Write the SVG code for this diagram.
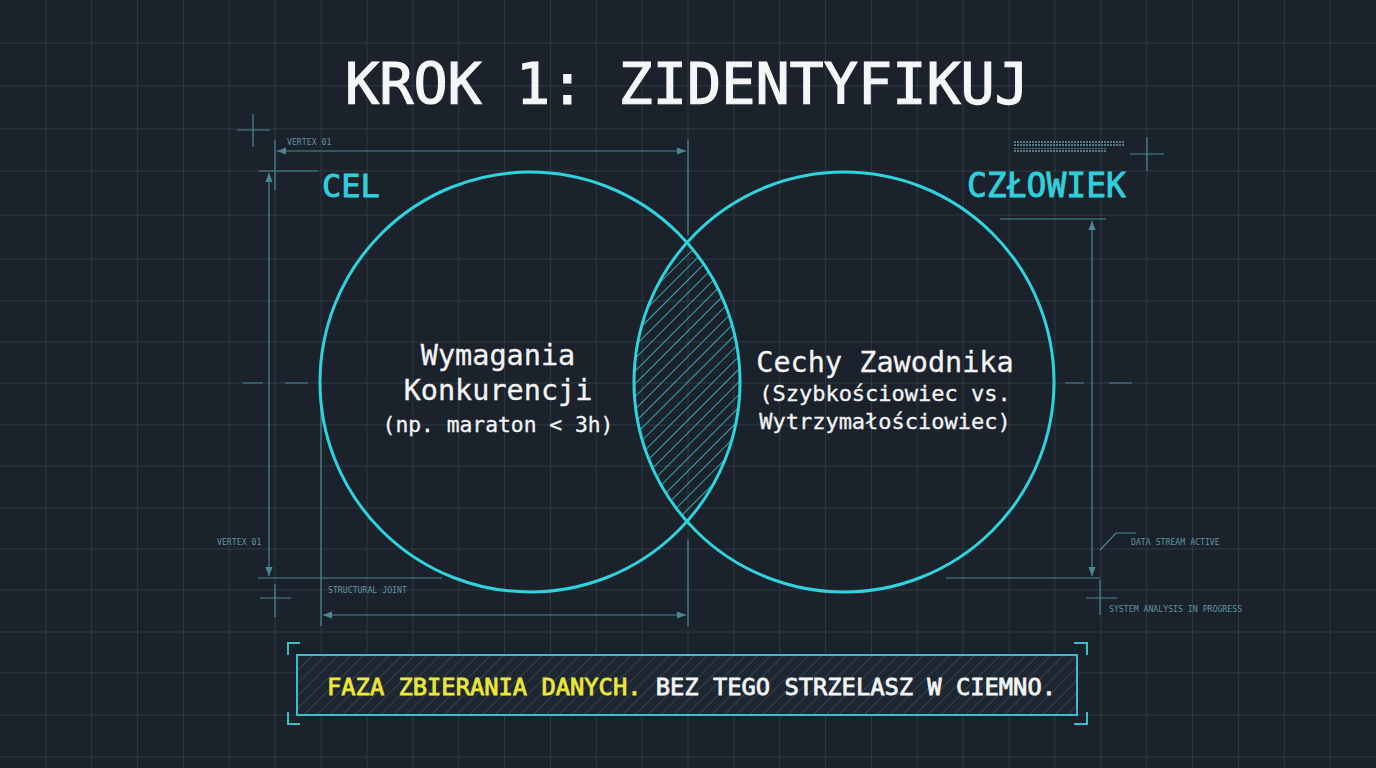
<svg xmlns="http://www.w3.org/2000/svg" width="1376" height="768" viewBox="0 0 1376 768">
<style>
.grid{stroke:#2d3a45;stroke-width:1;fill:none}
.dim{stroke:#4a8896;stroke-width:1.2;fill:none}
.dimt{font-family:"DejaVu Sans Mono","Liberation Mono",monospace;font-size:8.2px;fill:#5b95a1}
.circ{fill:none;stroke:#2fd3dd;stroke-width:3}
.lab{font-family:"DejaVu Sans Mono","Liberation Mono",monospace;fill:#2fd0dc;stroke:#2fd0dc;stroke-width:0.9}
.body{font-family:"DejaVu Sans Mono","Liberation Mono",monospace;fill:#f2f4f5;stroke:#f2f4f5;stroke-width:0.3;text-anchor:middle}
</style>
<defs>
<marker id="arr" viewBox="0 0 10 10" refX="10" refY="5" markerWidth="9" markerHeight="9" markerUnits="userSpaceOnUse" orient="auto-start-reverse">
<path d="M0,1 L10,5 L0,9 z" fill="#4a8896"/>
</marker>
<pattern id="hatchLens" patternUnits="userSpaceOnUse" width="9" height="9" patternTransform="rotate(45)">
<line x1="0" y1="0" x2="0" y2="9" stroke="#3ad0da" stroke-width="1.5"/>
</pattern>
<pattern id="hatchBox" patternUnits="userSpaceOnUse" width="9" height="9" patternTransform="rotate(45)">
<line x1="0" y1="0" x2="0" y2="9" stroke="#36444e" stroke-width="1.8"/>
</pattern>
<pattern id="bar" patternUnits="userSpaceOnUse" width="3" height="3">
<rect x="0" y="0" width="2" height="2" fill="#4f7c87"/>
</pattern>
<clipPath id="clipL"><circle cx="530" cy="382" r="210"/></clipPath>
<clipPath id="clipR"><circle cx="844" cy="382" r="210"/></clipPath>
</defs>
<rect x="0" y="0" width="1376" height="768" fill="#1b222b"/>
<g id="grid">
<path class="grid" d="M45.9,0V768M91.7,0V768M137.6,0V768M183.5,0V768M229.3,0V768M275.2,0V768M321.1,0V768M367,0V768M412.8,0V768M458.7,0V768M504.5,0V768M550.4,0V768M596.3,0V768M642.1,0V768M688,0V768M733.9,0V768M779.7,0V768M825.6,0V768M871.5,0V768M917.3,0V768M963.2,0V768M1009.1,0V768M1054.9,0V768M1100.8,0V768M1146.7,0V768M1192.5,0V768M1238.4,0V768M1284.3,0V768M1330.1,0V768"/>
<path class="grid" d="M0,43H1376M0,86H1376M0,129H1376M0,171H1376M0,215H1376M0,259H1376M0,301H1376M0,342H1376M0,383H1376M0,425H1376M0,466H1376M0,508H1376M0,549H1376M0,590H1376M0,632H1376M0,673H1376M0,715H1376M0,757H1376"/>
</g>
<g id="title">
<text x="687" y="104" text-anchor="middle" font-family="DejaVu Sans Mono, Liberation Mono, monospace" font-size="57" fill="#f4f6f7" stroke="#f4f6f7" stroke-width="1.2" textLength="684" lengthAdjust="spacingAndGlyphs">KROK 1: ZIDENTYFIKUJ</text>
</g>
<g id="annotations">
<path class="dim" d="M237,130H270M253,114V147"/>
<path class="dim" d="M275,140V190M688,140V235"/>
<path class="dim" d="M277,151H686" marker-start="url(#arr)" marker-end="url(#arr)"/>
<text class="dimt" x="287" y="145">VERTEX 01</text>
<path class="dim" d="M259,171H318M258,578H442"/>
<path class="dim" d="M269,173V576" marker-start="url(#arr)" marker-end="url(#arr)"/>
<text class="dimt" x="217" y="545">VERTEX 01</text>
<path class="dim" d="M260,598H291M275,584V617"/>
<path class="dim" d="M243,383H263M285,383H308M1065,383H1084M1109,383H1132"/>
<path class="dim" d="M321,400V626M688,540V626"/>
<text class="dimt" x="328" y="593">STRUCTURAL JOINT</text>
<path class="dim" d="M323,615H686" marker-start="url(#arr)" marker-end="url(#arr)"/>
<path class="dim" d="M1000,219H1106M946,578H1100"/>
<path class="dim" d="M1092,221V576" marker-start="url(#arr)" marker-end="url(#arr)"/>
<path class="dim" d="M1100,550L1116,533H1136"/>
<text class="dimt" x="1131" y="545">DATA STREAM ACTIVE</text>
<path class="dim" d="M1086,598H1117M1100,580V615"/>
<text class="dimt" x="1109" y="612">SYSTEM ANALYSIS IN PROGRESS</text>
<rect x="1014" y="141" width="110" height="6" fill="url(#bar)"/>
<rect x="1014" y="148" width="92" height="4" fill="url(#bar)"/>
<path class="dim" d="M1130,154H1164M1147,137V171"/>
</g>
<g id="overlap">
<g clip-path="url(#clipL)">
<rect x="630" y="230" width="115" height="305" fill="url(#hatchLens)" clip-path="url(#clipR)"/>
</g>
</g>
<g id="node-cel">
<circle class="circ" cx="530" cy="382" r="210"/>
<text class="lab" x="322" y="197" font-size="32">CEL</text>
<text class="body" x="498" y="365" font-size="28.5">Wymagania</text>
<text class="body" x="498" y="400" font-size="28.5">Konkurencji</text>
<text class="body" x="498" y="432" font-size="21.3">(np. maraton &lt; 3h)</text>
</g>
<g id="node-czlowiek">
<circle class="circ" cx="844" cy="382" r="210"/>
<text class="lab" x="967" y="197" font-size="33">CZŁOWIEK</text>
<text class="body" x="885" y="372" font-size="28.5">Cechy Zawodnika</text>
<text class="body" x="885" y="401" font-size="22">(Szybkościowiec vs.</text>
<text class="body" x="885" y="429" font-size="22">Wytrzymałościowiec)</text>
</g>
<g id="footer">
<rect x="297" y="655" width="780" height="60" fill="#1e2731"/>
<rect x="297" y="655" width="780" height="60" fill="url(#hatchBox)"/>
<rect x="297" y="655" width="780" height="60" fill="none" stroke="#3dbdc8" stroke-width="2"/>
<path d="M300,643H288V655M1074,643H1087V655M300,724H288V712M1074,724H1087V712" fill="none" stroke="#3dbdc8" stroke-width="2"/>
<text x="327" y="695" font-family="DejaVu Sans Mono, Liberation Mono, monospace" font-size="23.8" stroke-width="0.8" textLength="729" lengthAdjust="spacingAndGlyphs"><tspan fill="#ece73a" stroke="#ece73a">FAZA ZBIERANIA DANYCH.</tspan><tspan fill="#f2f4f5" stroke="#f2f4f5"> BEZ TEGO STRZELASZ W CIEMNO.</tspan></text>
</g>
</svg>
